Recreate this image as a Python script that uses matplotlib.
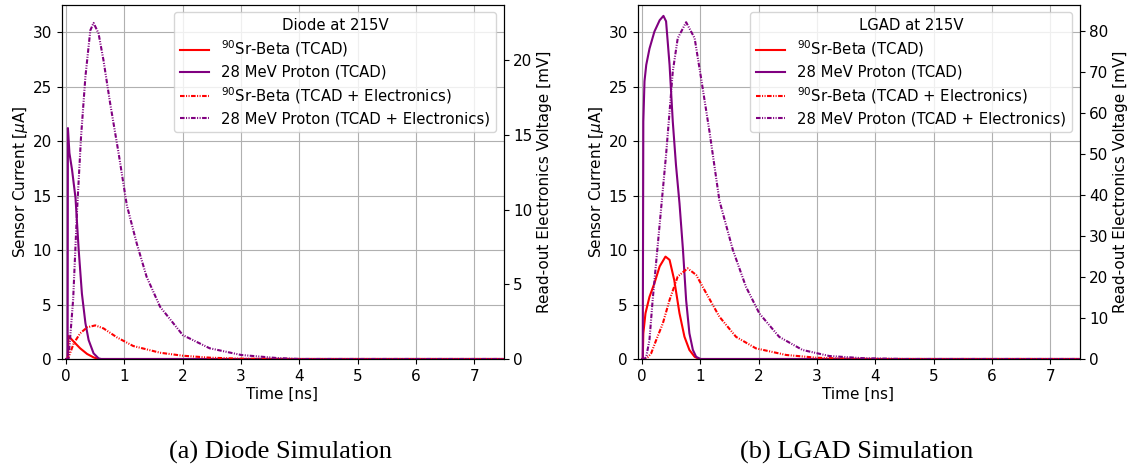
import matplotlib
matplotlib.use("Agg")
import matplotlib.pyplot as plt

# ---------------- Data ----------------
# Diode at 215V
t_d_beta = [0, 0.025, 0.04, 0.13, 0.24, 0.36, 0.47, 0.55, 7.5]
i_d_beta = [0, 0, 2.11, 1.59, 0.98, 0.46, 0.15, 0, 0]

t_d_proton = [0, 0.025, 0.03, 0.056, 0.1, 0.16, 0.215, 0.27, 0.33, 0.385, 0.47, 0.555, 0.6, 7.5]
i_d_proton = [0, 0, 21.2, 18.9, 17.4, 14.8, 10.0, 6.0, 3.3, 1.74, 0.52, 0.06, 0, 0]

t_d_beta_el = [0, 0.03, 0.13, 0.24, 0.36, 0.5, 0.64, 0.87, 1.15, 1.61, 2.0, 2.46, 3.0, 4.0, 7.5]
v_d_beta_el = [0, 0, 1.05, 1.72, 2.12, 2.25, 2.05, 1.45, 0.87, 0.42, 0.22, 0.09, 0.02, 0, 0]

t_d_proton_el = [0, 0.04, 0.12, 0.187, 0.255, 0.33, 0.414, 0.47, 0.555, 0.64, 0.755, 0.9,
                 1.04, 1.21, 1.38, 1.61, 2.0, 2.46, 3.0, 3.6, 4.0, 7.5]
v_d_proton_el = [0, 0, 4.0, 9.97, 14.87, 18.9, 22.0, 22.5, 21.8, 20.0, 17.1, 13.76,
                 10.3, 7.74, 5.5, 3.5, 1.6, 0.72, 0.27, 0.07, 0, 0]

# LGAD at 215V
t_l_beta = [0, 0.01, 0.02, 0.057, 0.125, 0.21, 0.3, 0.4, 0.47, 0.55, 0.64, 0.725, 0.81, 0.9, 0.98, 7.5]
i_l_beta = [0, 0, 2.36, 4.2, 5.7, 6.95, 8.5, 9.4, 9.1, 7.25, 4.2, 2.05, 0.83, 0.2, 0, 0]

t_l_proton = [0, 0.01, 0.02, 0.04, 0.07, 0.126, 0.21, 0.3, 0.365, 0.41, 0.47, 0.525, 0.58,
              0.64, 0.70, 0.754, 0.81, 0.87, 0.926, 1.0, 7.5]
i_l_proton = [0, 0, 21.8, 25.5, 27.0, 28.5, 30.06, 31.1, 31.5, 31.0, 27.0, 21.8, 17.8,
              14.3, 10.0, 5.4, 2.36, 0.83, 0.2, 0, 0]

t_l_beta_el = [0, 0.07, 0.154, 0.24, 0.355, 0.47, 0.61, 0.78, 0.926, 1.1, 1.325, 1.61, 1.95,
               2.47, 3.0, 3.6, 4.2, 7.5]
v_l_beta_el = [0, 0, 1.38, 4.6, 8.7, 14.4, 20.1, 22.1, 20.5, 16.0, 10.3, 5.4, 2.6,
               0.98, 0.3, 0.05, 0, 0]

t_l_proton_el = [0, 0.04, 0.07, 0.125, 0.18, 0.27, 0.34, 0.41, 0.47, 0.525, 0.61, 0.754, 0.9,
                 1.01, 1.155, 1.325, 1.555, 1.78, 2.01, 2.35, 2.75, 3.21, 3.78, 4.5, 7.5]
v_l_proton_el = [0, 0, 0.56, 4.6, 14.4, 28.2, 39.0, 49.8, 60.3, 70.1, 78.2, 82.1, 78.2,
                 68.5, 55.4, 38.6, 26.6, 17.6, 11.1, 5.4, 2.2, 0.73, 0.2, 0, 0]

labels = [r"$^{90}$Sr-Beta (TCAD)", "28 MeV Proton (TCAD)",
          r"$^{90}$Sr-Beta (TCAD + Electronics)", "28 MeV Proton (TCAD + Electronics)"]
titles = ["Diode at 215V", "LGAD at 215V"]
captions = ["(a) Diode Simulation", "(b) LGAD Simulation"]
right_ticks = [[0, 5, 10, 15, 20], [0, 10, 20, 30, 40, 50, 60, 70, 80]]
right_ylim = [23.7, 86.3]

panels = [
    (t_d_beta, i_d_beta, t_d_proton, i_d_proton, t_d_beta_el, v_d_beta_el, t_d_proton_el, v_d_proton_el),
    (t_l_beta, i_l_beta, t_l_proton, i_l_proton, t_l_beta_el, v_l_beta_el, t_l_proton_el, v_l_proton_el),
]

# ---------------- Figure ----------------
plt.rcParams['font.family'] = ['DejaVu Sans']
fig = plt.figure(figsize=(11.33, 4.68), dpi=100)

dd = (0, (2.2, 0.7, 0.5, 0.7, 0.5, 0.7))
lefts = [61.5 / 1133, 637.5 / 1133]
fs = 11

for k, (tb, ib, tp, ip, tbe, vbe, tpe, vpe) in enumerate(panels):
    ax = fig.add_axes([lefts[k], 109 / 468, 442 / 1133, 354 / 468])
    ax2 = ax.twinx()
    h1, = ax.plot(tb, ib, color='red', lw=1.5, label=labels[0])
    h2, = ax.plot(tp, ip, color='purple', lw=1.5, label=labels[1])
    h3, = ax2.plot(tbe, vbe, color='red', lw=1.5, linestyle=dd, label=labels[2])
    h4, = ax2.plot(tpe, vpe, color='purple', lw=1.5, linestyle=dd, label=labels[3])
    ax.set_xlim(-0.08, 7.5)
    ax.set_ylim(0, 32.5)
    ax2.set_ylim(0, right_ylim[k])
    ax.set_xticks(range(0, 8))
    ax.set_yticks(range(0, 31, 5))
    ax2.set_yticks(right_ticks[k])
    ax.grid(True, color='#b0b0b0', lw=0.8)
    ax.tick_params(labelsize=fs)
    ax2.tick_params(labelsize=fs)
    ax.set_xlabel("Time [ns]", fontsize=fs, labelpad=2)
    ax.set_ylabel(r"Sensor Current [$\mu$A]", fontsize=fs, labelpad=1.5)
    ax2.set_ylabel("Read-out Electronics Voltage [mV]", fontsize=fs, labelpad=3)
    ax2.legend(handles=[h1, h2, h3, h4], loc='upper right', title=titles[k],
               fontsize=10.7, title_fontsize=10.7, framealpha=0.8, labelspacing=0.36)
    fig.text(lefts[k] + 221 / 1133 - 0.002, 1 - 452 / 468, captions[k],
             family='Liberation Serif', fontsize=19, ha='center', va='center')

fig.savefig("out.png", dpi=100)
